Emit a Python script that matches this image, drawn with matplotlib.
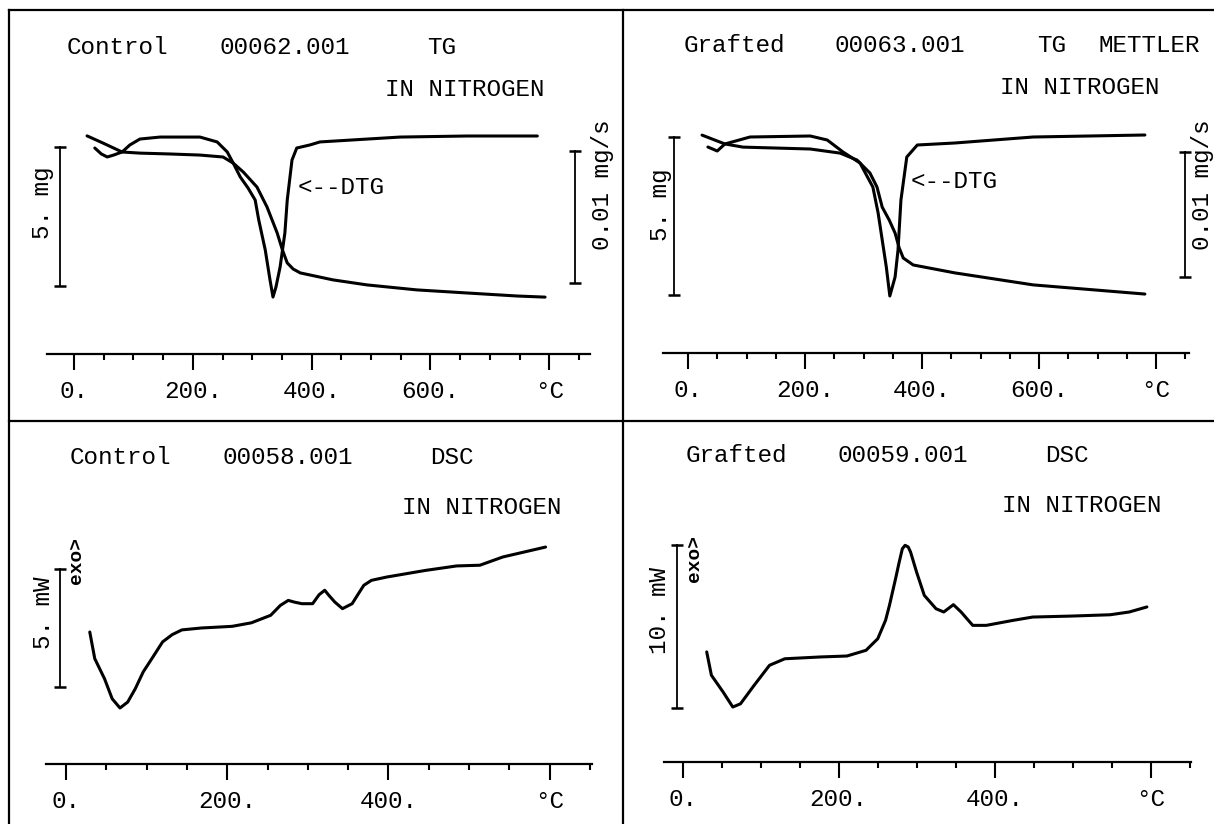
import matplotlib
matplotlib.use('Agg')
import matplotlib.pyplot as plt
import numpy as np
from matplotlib.lines import Line2D

plt.rcParams['font.family'] = ['Liberation Mono', 'DejaVu Sans Mono']
FS = 17.5
W, H = 1214, 824

# ---- data (temperature in deg C) ----
# Control TG (mg) and DTG (mg/s)
tg1_T = [22, 49, 81, 111, 160, 212, 251, 268, 285, 308, 325, 342, 351, 359, 369, 381, 414, 436, 493, 577, 661, 746, 793]
tg1_m = [7.40, 7.14, 6.82, 6.78, 6.75, 6.71, 6.64, 6.42, 6.10, 5.56, 4.84, 3.91, 3.29, 2.83, 2.61, 2.47, 2.32, 2.22, 2.04, 1.86, 1.75, 1.64, 1.60]
dtg1_T = [35, 46, 56, 67, 81, 94, 111, 145, 212, 241, 258, 268, 280, 293, 305, 311, 322, 330, 335, 340,
          347, 355, 359, 367, 375, 397, 414, 549, 662, 780]
dtg1_d = [-0.00091, -0.00136, -0.00159, -0.00144, -0.00121, -0.00068, -0.00023, -0.00008, -0.00008, -0.00045,
          -0.00121, -0.00205, -0.00311, -0.00394, -0.00485, -0.00636, -0.00864, -0.01091, -0.0122, -0.01144,
          -0.00992, -0.00735, -0.00485, -0.00182, -0.00091, -0.00068, -0.00045, -0.00008, 0.0, 0.0]

# Grafted TG (mg) and DTG (mg/s)
tg2_T = [24, 63, 94, 209, 260, 289, 311, 323, 332, 344, 354, 361, 368, 385, 456, 590, 781]
tg2_m = [7.06, 6.78, 6.68, 6.62, 6.49, 6.27, 5.86, 5.42, 4.78, 4.37, 3.96, 3.49, 3.17, 2.95, 2.70, 2.32, 2.03]
dtg2_T = [34, 50, 63, 106, 209, 238, 265, 294, 316, 325, 339, 345, 354, 359, 364, 374, 392, 456, 590, 781]
dtg2_d = [-0.00096, -0.00128, -0.00072, -0.00016, -0.00008, -0.0004, -0.00136, -0.00224, -0.00416, -0.00624,
          -0.01056, -0.01288, -0.01136, -0.0092, -0.0052, -0.00176, -0.0008, -0.00064, -0.00016, 0.0]

# Control DSC (mW)
dsc1_T = [29.5, 35.7, 47.8, 57.3, 67, 76.5, 86, 95.8, 107.8, 119.8, 131.8, 143.8, 167.8, 206, 230, 254, 266,
          275.8, 283, 292.6, 306, 314, 321, 326, 333.5, 343, 355, 362, 369.5, 379, 398, 446, 484.7, 513.5, 542, 595]
dsc1_P = [2.33, 1.20, 0.35, -0.50, -0.89, -0.64, -0.07, 0.64, 1.27, 1.91, 2.22, 2.42, 2.50, 2.57, 2.72, 3.04, 3.46,
          3.67, 3.60, 3.53, 3.53, 3.91, 4.10, 3.89, 3.60, 3.32, 3.53, 3.91, 4.31, 4.52, 4.66, 4.94, 5.13, 5.16, 5.51, 5.93]

# Grafted DSC (mW)
dsc2_T = [31, 37, 52, 64.4, 74.3, 91.7, 111.4, 131, 176, 210.6, 235, 250, 260, 265, 272.8, 277.5, 281.5, 285, 289,
          292, 299.7, 309.6, 324.6, 334.5, 346.9, 356.7, 371.6, 389, 423.7, 448.4, 498, 547.5, 572, 594.6]
dsc2_P = [3.44, 2.01, 0.98, 0.06, 0.26, 1.39, 2.62, 3.02, 3.13, 3.19, 3.54, 4.25, 5.38, 6.30, 7.93, 8.96, 9.77, 9.98,
          9.88, 9.57, 8.34, 6.91, 6.09, 5.89, 6.34, 5.89, 5.07, 5.07, 5.38, 5.58, 5.64, 5.72, 5.89, 6.20]

tg_ticks = [0, 200, 400, 600, 800]
tg_labels = ['0.', '200.', '400.', '600.', '°C']
tg_minor = [50, 100, 150, 250, 300, 350, 450, 500, 550, 650, 700, 750, 850]
dsc_ticks = [0, 200, 400, 600]
dsc_labels = ['0.', '200.', '400.', '°C']
dsc_minor = [50, 100, 150, 250, 300, 350, 450, 500, 550, 650]

fig = plt.figure(figsize=(12.14, 8.24), dpi=100)


def fx(x):
    return x / W


def fy(y):
    return 1 - y / H


def panel(box, x0px, xs, y0px, yref, ys, twin=None):
    l, t, r, b = box
    ax = fig.add_axes([l / W, 1 - b / H, (r - l) / W, (b - t) / H])
    ax.set_xlim((l - x0px) / xs, (r - x0px) / xs)
    ax.set_ylim(yref + (y0px - b) / ys, yref + (y0px - t) / ys)
    ax.patch.set_visible(False)
    for s in ['top', 'right', 'left']:
        ax.spines[s].set_visible(False)
    ax.set_yticks([])
    ax2 = None
    if twin:
        ty0, tref, tys = twin
        ax2 = ax.twinx()
        ax2.set_ylim(tref + (ty0 - b) / tys, tref + (ty0 - t) / tys)
        ax2.set_axis_off()
    return ax, ax2


def temp_axis(ax, val, lo, hi, majors, labels, minors):
    sp = ax.spines['bottom']
    sp.set_position(('data', val))
    sp.set_bounds(lo, hi)
    sp.set_linewidth(1.6)
    ax.set_xticks(majors, labels)
    ax.set_xticks(minors, minor=True)
    ax.tick_params(which='major', length=11.5, width=1.5, pad=7, labelsize=FS, direction='out')
    ax.tick_params(which='minor', length=4.3, width=1.5, direction='out')


def bar(ax, x, lo, hi):
    ax.plot([x, x], [lo, hi], color='black', lw=1.3, marker='_', ms=9, mew=1.8, clip_on=False)


def txt(x, y, s, rot=0, size=FS, **kw):
    fig.text(fx(x), fy(y), s, ha='center', va='center', rotation=rot, fontsize=size, **kw)


LW = 2.2
kw = dict(color='black', lw=LW, solid_joinstyle='round', solid_capstyle='round')

# panel 1: Control TG
ax, tw = panel((9, 10, 622, 421), 74, 0.594, 286, 2, 27.8, twin=(136, 0, 13200))
ax.plot(tg1_T, tg1_m, **kw)
tw.plot(dtg1_T, dtg1_d, **kw)
temp_axis(ax, 2 + (286 - 354) / 27.8, -45, 869, tg_ticks, tg_labels, tg_minor)
bar(ax, -23.6, 2, 7)
bar(tw, 843, -0.00114, -0.01114)

# panel 2: Grafted TG
ax, tw = panel((622, 10, 1214, 421), 688, 0.585, 295, 2, 31.6, twin=(135, 0, 12500))
ax.plot(tg2_T, tg2_m, **kw)
tw.plot(dtg2_T, dtg2_d, **kw)
temp_axis(ax, 2 + (295 - 353) / 31.6, -43, 856, tg_ticks, tg_labels, tg_minor)
bar(ax, -24, 2, 7)
bar(tw, 849.6, -0.00136, -0.01136)

# panel 3: Control DSC
ax, _ = panel((9, 421, 622, 824), 66, 0.806, 687, 0, 23.6)
ax.plot(dsc1_T, dsc1_P, **kw)
temp_axis(ax, (687 - 764) / 23.6, -25, 653, dsc_ticks, dsc_labels, dsc_minor)
bar(ax, -7.4, 0, 5)

# panel 4: Grafted DSC
ax, _ = panel((622, 421, 1214, 824), 682.5, 0.781, 708, 0, 16.3)
ax.plot(dsc2_T, dsc2_P, **kw)
temp_axis(ax, (708 - 762) / 16.3, -24, 651, dsc_ticks, dsc_labels, dsc_minor)
bar(ax, -7, 0, 10)

# headers
txt(117.5, 47, 'Control')
txt(285, 47, '00062.001')
txt(442, 47, 'TG')
txt(464.5, 89, 'IN NITROGEN')
txt(341, 188, '<--DTG')
txt(43, 203, '5. mg', rot=90)
txt(603, 185, '0.01 mg/s', rot=90)

txt(734.5, 45, 'Grafted')
txt(900, 45, '00063.001')
txt(1052, 45, 'TG')
txt(1149, 45, 'METTLER')
txt(1079.5, 87, 'IN NITROGEN')
txt(954, 182, '<--DTG')
txt(660, 205, '5. mg', rot=90)
txt(1203, 185, '0.01 mg/s', rot=90)

txt(120, 457, 'Control')
txt(287.5, 457, '00058.001')
txt(452, 457, 'DSC')
txt(482, 507, 'IN NITROGEN')
txt(43, 613, '5. mW', rot=90)
txt(77, 561, 'exo>', rot=90, size=14, fontweight='bold')

txt(736.5, 455, 'Grafted')
txt(903, 455, '00059.001')
txt(1066.5, 455, 'DSC')
txt(1082, 505, 'IN NITROGEN')
txt(659, 611, '10. mW', rot=90)
txt(694, 559, 'exo>', rot=90, size=14, fontweight='bold')

# frame lines
for xs, ys in [((9, 1214), (10, 10)), ((9, 9), (10, 824)), ((623, 623), (10, 824)), ((9, 1214), (421, 421))]:
    fig.add_artist(Line2D([fx(xs[0]), fx(xs[1])], [fy(ys[0]), fy(ys[1])], color='black', lw=1.6))

fig.savefig('out.png', dpi=100)
